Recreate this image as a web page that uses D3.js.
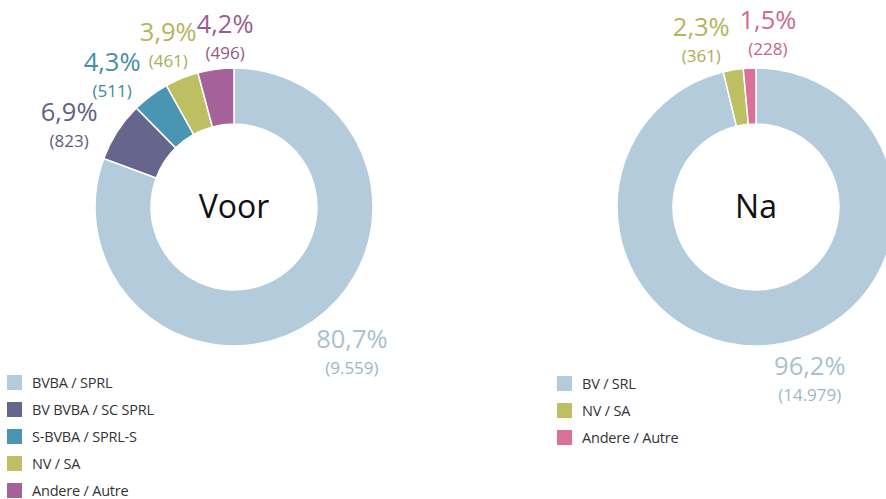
<!DOCTYPE html>
<html>
<head>
<meta charset="utf-8">
<script src="https://cdn.jsdelivr.net/npm/d3@7"></script>
<style>
  html, body { margin: 0; padding: 0; background: #fff; }
  svg { display: block; }
</style>
</head>
<body>
<svg id="chart" width="886" height="499"></svg>
<script>
// ---- data ----
const voorCategories = ["BVBA / SPRL", "BV BVBA / SC SPRL", "S-BVBA / SPRL-S", "NV / SA", "Andere / Autre"];
const voorValues = [9559, 823, 511, 461, 496];
const voorColors = ["#b3cbdb", "#66668c", "#4a96b2", "#bdbf62", "#a5619a"];
const voorTitle = "Voor";

const naCategories = ["BV / SRL", "NV / SA", "Andere / Autre"];
const naValues = [14979, 361, 228];
const naColors = ["#b3cbdb", "#bdbf62", "#db7098"];
const naTitle = "Na";

// ---- layout ----
const voorLayout = { cx: 234, cy: 207, legendX: 7, legendY: 375,
  nudges: [[18, 3], [-18, 15], [-17, 10], [0, 2], [14, 5]] };
const naLayout = { cx: 756, cy: 207, legendX: 557, legendY: 376,
  nudges: [[33, 0], [-26, 8], [20, 3]] };
const outerR = 139, innerR = 83, labelR = 175;

const loc = d3.formatLocale({ decimal: ",", thousands: ".", grouping: [3], currency: ["€", ""] });
const fmtPct = loc.format(".1%");
const fmtNum = loc.format(",d");

const svg = d3.select("#chart");

function drawDonut(cats, vals, cols, title, L) {
  const color = d3.scaleOrdinal().domain(cats).range(cols);
  const total = d3.sum(vals);
  const data = cats.map((c, i) => ({ cat: c, value: vals[i] }));
  const pie = d3.pie().value(d => d.value).sort(null);
  const arcs = pie(data);
  const arc = d3.arc().innerRadius(innerR).outerRadius(outerR);
  const labelArc = d3.arc().innerRadius(labelR).outerRadius(labelR);

  const g = svg.append("g").attr("transform", `translate(${L.cx},${L.cy})`);
  g.selectAll("path").data(arcs).join("path")
    .attr("d", arc)
    .attr("fill", d => color(d.data.cat))
    .attr("stroke", "#fff")
    .attr("stroke-width", 1.5);

  g.append("text")
    .attr("text-anchor", "middle")
    .attr("y", 11)
    .attr("font-family", "'Open Sans', sans-serif")
    .attr("font-size", 32)
    .attr("fill", "#111")
    .text(title);

  const lab = g.selectAll("g.lab").data(arcs).join("g").attr("class", "lab")
    .attr("transform", (d, i) => {
      const c = labelArc.centroid(d);
      const n = L.nudges[i];
      return `translate(${c[0] + n[0]},${c[1] + n[1]})`;
    });
  lab.append("text")
    .attr("text-anchor", "middle")
    .attr("y", -6)
    .attr("font-family", "'Open Sans', sans-serif")
    .attr("font-weight", 400)
    .attr("font-size", 25.5)
    .attr("fill", d => d3.color(color(d.data.cat)).darker(0.15))
    .text(d => fmtPct(d.data.value / total));
  lab.append("text")
    .attr("text-anchor", "middle")
    .attr("y", 20)
    .attr("font-family", "'Open Sans', sans-serif")
    .attr("font-size", 17)
    .attr("fill", d => d3.color(color(d.data.cat)).darker(0.3))
    .text(d => "(" + fmtNum(d.data.value) + ")");

  // legend
  const lg = svg.append("g").attr("transform", `translate(${L.legendX},${L.legendY})`);
  const row = lg.selectAll("g").data(cats).join("g")
    .attr("transform", (d, i) => `translate(0,${i * 27})`);
  row.append("rect").attr("width", 15).attr("height", 15).attr("fill", d => color(d));
  row.append("text")
    .attr("x", 25).attr("y", 13)
    .attr("font-family", "'Open Sans', sans-serif")
    .attr("font-size", 14.5)
    .attr("font-weight", 500)
    .attr("letter-spacing", -0.2)
    .attr("fill", "#333")
    .text(d => d);
}

drawDonut(voorCategories, voorValues, voorColors, voorTitle, voorLayout);
drawDonut(naCategories, naValues, naColors, naTitle, naLayout);
</script>
</body>
</html>
